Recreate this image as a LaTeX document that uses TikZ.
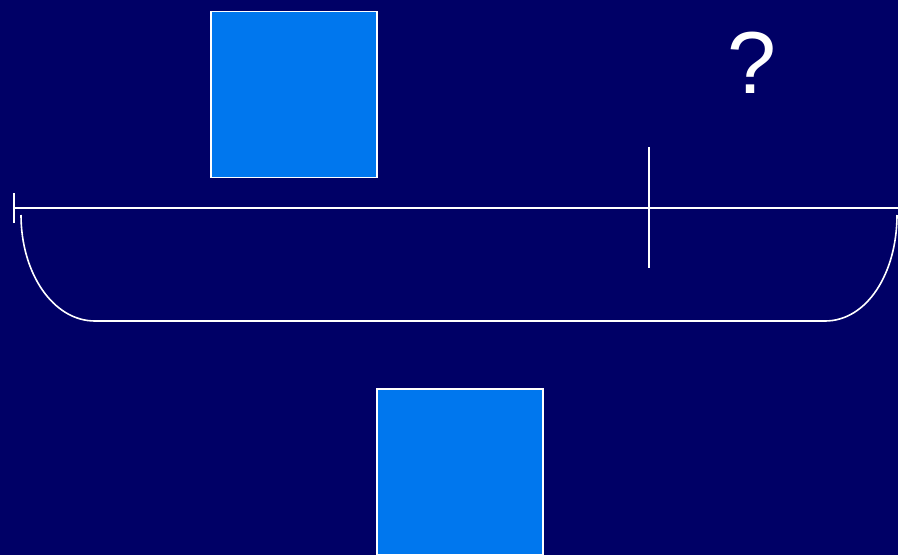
\documentclass[tikz,border=0pt]{standalone}
\usepackage{fontspec}
\setmainfont{Liberation Sans}
\definecolor{bg}{HTML}{000066}
\definecolor{boxblue}{HTML}{0077EE}
\begin{document}
\begin{tikzpicture}[x=1pt,y=-1pt,
  wline/.style={draw=white,line width=1.6pt},
  sq/.style={draw=white,line width=1.6pt,fill=boxblue,minimum width=166pt,minimum height=166pt,inner sep=0pt,outer sep=0pt}]
\fill[bg] (0,0) rectangle (898,555);
\useasboundingbox (0,0) rectangle (898,555);
\node[sq] (top) at (294,94.5) {};
\node[sq,anchor=north west] (bottom) at (377,389) {};
\node[text=white,font=\fontsize{88}{88}\selectfont,inner sep=0pt] (q) at (752,63) {?};
\coordinate (L) at (14,208);
\coordinate (R) at (898,208);
\coordinate (tickT) at (14,193);
\coordinate (tickB) at (14,223);
\coordinate (vT) at (649,147);
\coordinate (vB) at (649,268);
\coordinate (bl) at (21,215);
\coordinate (br) at (897,215);
\coordinate (fl) at (95,321);
\coordinate (fr) at (825,321);
\draw[wline] (L) -- (R);
\draw[wline] (tickT) -- (tickB);
\draw[wline] (vT) -- (vB);
\draw[wline] (bl) .. controls (21,273) and (53,321) .. (fl) -- (fr) .. controls (867,321) and (897,273) .. (br);
\end{tikzpicture}
\end{document}
